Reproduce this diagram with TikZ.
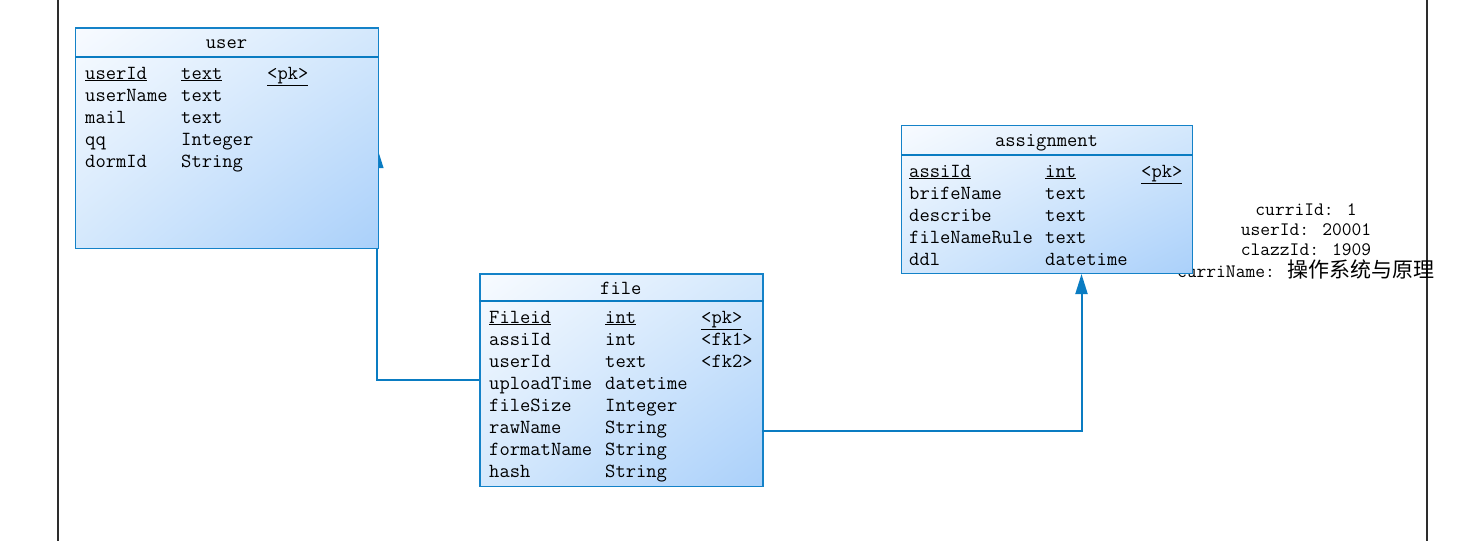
\documentclass[tikz,border=0pt]{standalone}
\usepackage{fontspec}
\usetikzlibrary{arrows.meta,shadings}
\newfontfamily\cjk{Noto Sans CJK SC}
\definecolor{bordc}{RGB}{20,130,200}
\definecolor{linec}{RGB}{10,124,194}
\definecolor{gtl}{RGB}{248,251,255}
\definecolor{gmid}{RGB}{212,232,252}
\definecolor{gbr}{RGB}{170,208,250}
\definecolor{framec}{RGB}{45,45,45}
\begin{document}
\begin{tikzpicture}[x=1pt,y=-1pt,
  tbl/.style={draw=bordc, line width=1.2pt, inner sep=0pt,
    upper left=gtl, upper right=gmid, lower left=gmid, lower right=gbr},
  sep/.style={draw=linec, line width=2pt},
  cell/.style={anchor=base west, inner sep=0pt, font=\ttfamily\fontsize{20}{21}\selectfont},
  ttl/.style={anchor=base, inner sep=0pt, font=\ttfamily\fontsize{20}{21}\selectfont},
  note/.style={anchor=base, inner sep=0pt, font=\ttfamily\fontsize{19}{20}\selectfont},
  conn/.style={draw=linec, line width=2pt},
  tip/.style={-{Triangle[length=20pt,width=12pt]}},
]
\useasboundingbox (0,0) rectangle (1463,541);
\fill[white] (0,0) rectangle (1463,541);

% page frame lines
\draw[framec, line width=2pt] (57.5,0) -- (57.5,541);
\draw[framec, line width=2pt] (1427,0) -- (1427,541);

% free ends of connectors
\coordinate (uin) at (377.3,148);
\coordinate (fout) at (762.3,431);
\coordinate (ain) at (1081.5,274);

% side note (drawn before the assignment box, which covers its first letter)
\node[note] (n1) at (1306,215) {curriId: 1};
\node[note] (n2) at (1306,235) {userId: 20001};
\node[note] (n3) at (1306,255) {clazzId: 1909};
\node[note] (n4) at (1306,277) {curriName: {\cjk\fontsize{21}{22}\selectfont 操作系统与原理}};

% file box (needed for connector anchor)
\node[tbl, anchor=north west, minimum width=283pt, minimum height=212.7pt] (file) at (479.3,273.3) {};

% connector file -> user (drawn below the user box)
\draw[conn, tip] (file.west) -| (uin);

% user table
\node[tbl, anchor=north west, minimum width=303pt, minimum height=220.7pt] (user) at (75,27.3) {};
\draw[sep] (user.west |- 0,57) -- (user.east |- 0,57);
\node[ttl] (ut) at (226.5,48) {user};
\node[cell] (u1a) at (85,79) {\underline{userId}};
\node[cell] (u1b) at (181,79) {\underline{text}};
\node[cell] (u1c) at (267,79) {\underline{<pk>}};
\node[cell] (u2a) at (85,101) {userName};
\node[cell] (u2b) at (181,101) {text};
\node[cell] (u3a) at (85,123) {mail};
\node[cell] (u3b) at (181,123) {text};
\node[cell] (u4a) at (85,145) {qq};
\node[cell] (u4b) at (181,145) {Integer};
\node[cell] (u5a) at (85,167) {dormId};
\node[cell] (u5b) at (181,167) {String};

% file table contents
\draw[sep] (file.west |- 0,301) -- (file.east |- 0,301);
\node[ttl] (ft) at (620.8,294) {file};
\node[cell] (f1a) at (489,323) {\underline{Fileid}};
\node[cell] (f1b) at (605,323) {\underline{int}};
\node[cell] (f1c) at (701,323) {\underline{<pk>}};
\node[cell] (f2a) at (489,345) {assiId};
\node[cell] (f2b) at (605,345) {int};
\node[cell] (f2c) at (701,345) {<fk1>};
\node[cell] (f3a) at (489,367) {userId};
\node[cell] (f3b) at (605,367) {text};
\node[cell] (f3c) at (701,367) {<fk2>};
\node[cell] (f4a) at (489,389) {uploadTime};
\node[cell] (f4b) at (605,389) {datetime};
\node[cell] (f5a) at (489,411) {fileSize};
\node[cell] (f5b) at (605,411) {Integer};
\node[cell] (f6a) at (489,433) {rawName};
\node[cell] (f6b) at (605,433) {String};
\node[cell] (f7a) at (489,455) {formatName};
\node[cell] (f7b) at (605,455) {String};
\node[cell] (f8a) at (489,477) {hash};
\node[cell] (f8b) at (605,477) {String};

% assignment table
\node[tbl, anchor=north west, minimum width=291pt, minimum height=148pt] (assign) at (901,125) {};
\draw[sep] (assign.west |- 0,155) -- (assign.east |- 0,155);
\node[ttl] (at) at (1046.5,146) {assignment};
\node[cell] (a1a) at (909,177) {\underline{assiId}};
\node[cell] (a1b) at (1045,177) {\underline{int}};
\node[cell] (a1c) at (1141,177) {\underline{<pk>}};
\node[cell] (a2a) at (909,199) {brifeName};
\node[cell] (a2b) at (1045,199) {text};
\node[cell] (a3a) at (909,221) {describe};
\node[cell] (a3b) at (1045,221) {text};
\node[cell] (a4a) at (909,243) {fileNameRule};
\node[cell] (a4b) at (1045,243) {text};
\node[cell] (a5a) at (909,265) {ddl};
\node[cell] (a5b) at (1045,265) {datetime};

% connector file -> assignment
\draw[conn, tip] (fout) -| (ain);
\end{tikzpicture}
\end{document}
